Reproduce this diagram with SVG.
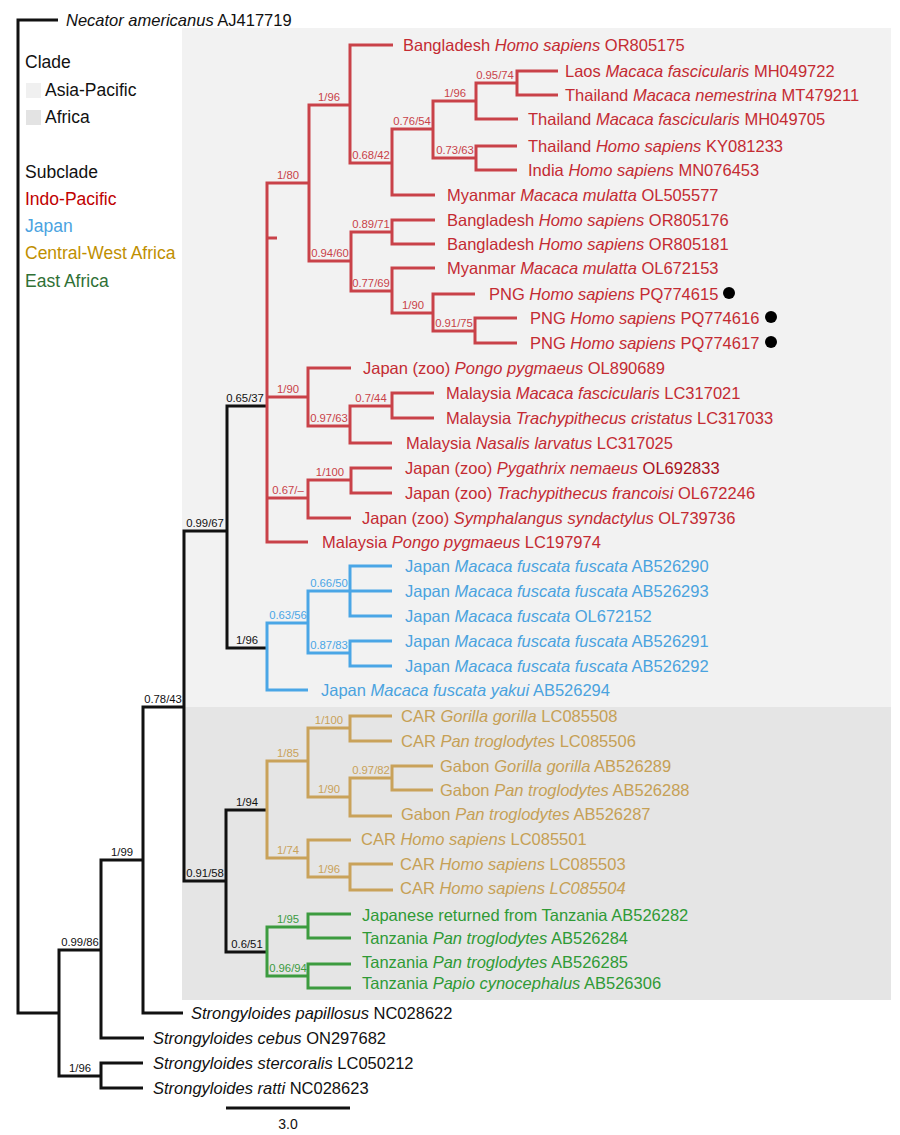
<svg xmlns="http://www.w3.org/2000/svg" width="900" height="1135" viewBox="0 0 900 1135">
<style>
text{font-family:"Liberation Sans",Arial,sans-serif}
.tip{font-size:16.5px}
.lg{font-size:17.5px}
.bs{font-size:11.3px;text-anchor:middle}
.i{font-style:italic}
.br{fill:none;stroke-width:3;stroke-linejoin:miter;stroke-linecap:butt}
.k{stroke:#111}.r{stroke:#c94249}.b{stroke:#4aa6e6}.g{stroke:#c9a25a}.e{stroke:#3c9b3f}
.tk{fill:#111}.tr{fill:#c42b32}.tb{fill:#4aa3df}.tg{fill:#c6a055}.te{fill:#2f9a35}
.lr{fill:#c94249}.lb{fill:#4aa6e6}.lgd{fill:#c9a25a}.le{fill:#3c9b3f}
</style>
<rect width="900" height="1135" fill="#ffffff"/>
<g id="clade-boxes">
<rect x="182" y="28" width="709" height="679" fill="#f2f2f2"/>
<rect x="182" y="707" width="709" height="293" fill="#e5e5e5"/>
</g>
<g id="legend">
<text class="lg tk" x="25" y="68">Clade</text>
<rect x="26" y="83" width="15" height="15" fill="#f0f0f0"/>
<text class="lg tk" x="45" y="96">Asia-Pacific</text>
<rect x="26" y="110" width="15" height="15" fill="#e3e3e3"/>
<text class="lg tk" x="45" y="123">Africa</text>
<text class="lg tk" x="25" y="178">Subclade</text>
<text class="lg" x="25" y="205" fill="#c00000">Indo-Pacific</text>
<text class="lg" x="25" y="232" fill="#4aa3df">Japan</text>
<text class="lg" x="25" y="259" fill="#bf8f00">Central-West Africa</text>
<text class="lg" x="25" y="287" fill="#2f7035">East Africa</text>
</g>
<g id="connectors">
<path class="br k" d="M58 20 H18 V1013 H59"/>
<path class="br k" d="M101 950 H59 V1076 H101"/>
<path class="br k" d="M143 1063 H101 V1088 H143"/>
<path class="br k" d="M143 860 H101 V1038 H144"/>
<path class="br k" d="M184 707 H143 V1013 H183"/>
<path class="br k" d="M227 531 H184 V881 H226"/>
<path class="br k" d="M267 406 H227 V648 H267"/>
<path class="br k" d="M267 810 H226 V952 H267"/>
<path class="br r" d="M309 183 H267 V542 H308"/>
<path class="br r" d="M267 238 H277 M267 397 H308 M267 498 H308"/>
<path class="br r" d="M350 105 H309 V261 H351"/>
<path class="br r" d="M393 45 H350 V163 H392"/>
<path class="br r" d="M433 129 H392 V195 H435"/>
<path class="br r" d="M476 101 H433 V158 H476"/>
<path class="br r" d="M517 83 H476 V119 H518"/>
<path class="br r" d="M558 71 H517 V95 H558"/>
<path class="br r" d="M517 146 H476 V170 H517"/>
<path class="br r" d="M392 232 H351 V291 H392"/>
<path class="br r" d="M435 220 H392 V244 H435"/>
<path class="br r" d="M435 268 H392 V313 H433"/>
<path class="br r" d="M475 294 H433 V331 H475"/>
<path class="br r" d="M517 318 H475 V343 H517"/>
<path class="br r" d="M351 368 H308 V426 H350"/>
<path class="br r" d="M392 406 H350 V443 H392"/>
<path class="br r" d="M434 393 H392 V418 H434"/>
<path class="br r" d="M351 480 H308 V518 H351"/>
<path class="br r" d="M392 468 H351 V493 H392"/>
<path class="br b" d="M308 623 H267 V690 H308"/>
<path class="br b" d="M350 591 H308 V653 H350"/>
<path class="br b" d="M392 566 H350 V616 H392 M350 591 H392"/>
<path class="br b" d="M392 641 H350 V666 H392"/>
<path class="br g" d="M308 761 H267 V858 H308"/>
<path class="br g" d="M350 728 H308 V797 H350"/>
<path class="br g" d="M392 716 H350 V741 H392"/>
<path class="br g" d="M392 778 H350 V816 H392"/>
<path class="br g" d="M433 766 H392 V790 H433"/>
<path class="br g" d="M351 840 H308 V877 H350"/>
<path class="br g" d="M393 864 H350 V890 H393"/>
<path class="br e" d="M308 927 H267 V976 H308"/>
<path class="br e" d="M351 914 H308 V938 H351"/>
<path class="br e" d="M351 964 H308 V988 H351"/>
</g>
<g id="support-values">
<g id="n-0.99-86"><text class="bs tk" x="80" y="946">0.99/86</text></g>
<g id="n-1-96-out"><text class="bs tk" x="80" y="1072">1/96</text></g>
<g id="n-1-99"><text class="bs tk" x="122" y="856">1/99</text></g>
<g id="n-0.78-43"><text class="bs tk" x="163" y="703">0.78/43</text></g>
<g id="n-0.99-67"><text class="bs tk" x="205" y="527">0.99/67</text></g>
<g id="n-0.91-58"><text class="bs tk" x="205" y="877">0.91/58</text></g>
<g id="n-0.65-37"><text class="bs tk" x="245" y="402">0.65/37</text></g>
<g id="n-1-96-jp"><text class="bs tk" x="247" y="644">1/96</text></g>
<g id="n-1-94"><text class="bs tk" x="247" y="806">1/94</text></g>
<g id="n-0.6-51"><text class="bs tk" x="247" y="948">0.6/51</text></g>
<g id="n-1-80"><text class="bs lr" x="288" y="179">1/80</text></g>
<g id="n-1-96-a"><text class="bs lr" x="329" y="101">1/96</text></g>
<g id="n-0.68-42"><text class="bs lr" x="371" y="159">0.68/42</text></g>
<g id="n-0.76-54"><text class="bs lr" x="412" y="125">0.76/54</text></g>
<g id="n-1-96-b"><text class="bs lr" x="455" y="97">1/96</text></g>
<g id="n-0.95-74"><text class="bs lr" x="495" y="79">0.95/74</text></g>
<g id="n-0.73-63"><text class="bs lr" x="455" y="154">0.73/63</text></g>
<g id="n-0.94-60"><text class="bs lr" x="330" y="257">0.94/60</text></g>
<g id="n-0.89-71"><text class="bs lr" x="371" y="228">0.89/71</text></g>
<g id="n-0.77-69"><text class="bs lr" x="371" y="287">0.77/69</text></g>
<g id="n-1-90-png"><text class="bs lr" x="413" y="309">1/90</text></g>
<g id="n-0.91-75"><text class="bs lr" x="454" y="327">0.91/75</text></g>
<g id="n-1-90-my"><text class="bs lr" x="288" y="393">1/90</text></g>
<g id="n-0.97-63"><text class="bs lr" x="329" y="422">0.97/63</text></g>
<g id="n-0.7-44"><text class="bs lr" x="371" y="402">0.7/44</text></g>
<g id="n-0.67"><text class="bs lr" x="288" y="494">0.67/–</text></g>
<g id="n-1-100-zoo"><text class="bs lr" x="330" y="476">1/100</text></g>
<g id="n-0.63-56"><text class="bs lb" x="288" y="619">0.63/56</text></g>
<g id="n-0.66-50"><text class="bs lb" x="329" y="587">0.66/50</text></g>
<g id="n-0.87-83"><text class="bs lb" x="329" y="649">0.87/83</text></g>
<g id="n-1-85"><text class="bs lgd" x="288" y="757">1/85</text></g>
<g id="n-1-100-car"><text class="bs lgd" x="329" y="724">1/100</text></g>
<g id="n-1-90-gab"><text class="bs lgd" x="329" y="793">1/90</text></g>
<g id="n-0.97-82"><text class="bs lgd" x="371" y="774">0.97/82</text></g>
<g id="n-1-74"><text class="bs lgd" x="288" y="854">1/74</text></g>
<g id="n-1-96-car"><text class="bs lgd" x="329" y="873">1/96</text></g>
<g id="n-1-95"><text class="bs le" x="288" y="923">1/95</text></g>
<g id="n-0.96-94"><text class="bs le" x="288" y="972">0.96/94</text></g>
</g>
<g id="tips">
<g id="t-AJ417719"><text class="tip tk" x="66" y="26"><tspan class="i">Necator americanus</tspan> AJ417719</text></g>
<g id="t-OR805175"><text class="tip tr" x="403" y="51">Bangladesh <tspan class="i">Homo sapiens</tspan> OR805175</text></g>
<g id="t-MH049722"><text class="tip tr" x="565" y="77">Laos <tspan class="i">Macaca fascicularis</tspan> MH049722</text></g>
<g id="t-MT479211"><text class="tip tr" x="565" y="101">Thailand <tspan class="i">Macaca nemestrina</tspan> MT479211</text></g>
<g id="t-MH049705"><text class="tip tr" x="528" y="125">Thailand <tspan class="i">Macaca fascicularis</tspan> MH049705</text></g>
<g id="t-KY081233"><text class="tip tr" x="528" y="152">Thailand <tspan class="i">Homo sapiens</tspan> KY081233</text></g>
<g id="t-MN076453"><text class="tip tr" x="528" y="176">India <tspan class="i">Homo sapiens</tspan> MN076453</text></g>
<g id="t-OL505577"><text class="tip tr" x="447" y="201">Myanmar <tspan class="i">Macaca mulatta</tspan> OL505577</text></g>
<g id="t-OR805176"><text class="tip tr" x="447" y="226">Bangladesh <tspan class="i">Homo sapiens</tspan> OR805176</text></g>
<g id="t-OR805181"><text class="tip tr" x="447" y="250">Bangladesh <tspan class="i">Homo sapiens</tspan> OR805181</text></g>
<g id="t-OL672153"><text class="tip tr" x="447" y="274">Myanmar <tspan class="i">Macaca mulatta</tspan> OL672153</text></g>
<g id="t-PQ774615"><text class="tip tr" x="489" y="300">PNG <tspan class="i">Homo sapiens</tspan> PQ774615</text><circle cx="729" cy="293" r="6" fill="#000"/></g>
<g id="t-PQ774616"><text class="tip tr" x="530" y="324">PNG <tspan class="i">Homo sapiens</tspan> PQ774616</text><circle cx="771" cy="317" r="6" fill="#000"/></g>
<g id="t-PQ774617"><text class="tip tr" x="530" y="349">PNG <tspan class="i">Homo sapiens</tspan> PQ774617</text><circle cx="771" cy="342" r="6" fill="#000"/></g>
<g id="t-OL890689"><text class="tip tr" x="363" y="374">Japan (zoo) <tspan class="i">Pongo pygmaeus</tspan> OL890689</text></g>
<g id="t-LC317021"><text class="tip tr" x="446" y="399">Malaysia <tspan class="i">Macaca fascicularis</tspan> LC317021</text></g>
<g id="t-LC317033"><text class="tip tr" x="446" y="424">Malaysia <tspan class="i">Trachypithecus cristatus</tspan> LC317033</text></g>
<g id="t-LC317025"><text class="tip tr" x="406" y="449">Malaysia <tspan class="i">Nasalis larvatus</tspan> LC317025</text></g>
<g id="t-OL692833"><text class="tip tr" x="405" y="474">Japan (zoo) <tspan class="i">Pygathrix nemaeus</tspan> <tspan fill="#a8121c">OL692833</tspan></text></g>
<g id="t-OL672246"><text class="tip tr" x="405" y="499">Japan (zoo) <tspan class="i">Trachypithecus francoisi</tspan> OL672246</text></g>
<g id="t-OL739736"><text class="tip tr" x="362" y="524">Japan (zoo) <tspan class="i">Symphalangus syndactylus</tspan> OL739736</text></g>
<g id="t-LC197974"><text class="tip tr" x="322" y="548">Malaysia <tspan class="i">Pongo pygmaeus</tspan> LC197974</text></g>
<g id="t-AB526290"><text class="tip tb" x="405" y="572">Japan <tspan class="i">Macaca fuscata fuscata</tspan> AB526290</text></g>
<g id="t-AB526293"><text class="tip tb" x="405" y="597">Japan <tspan class="i">Macaca fuscata fuscata</tspan> AB526293</text></g>
<g id="t-OL672152"><text class="tip tb" x="405" y="622">Japan <tspan class="i">Macaca fuscata</tspan> OL672152</text></g>
<g id="t-AB526291"><text class="tip tb" x="405" y="647">Japan <tspan class="i">Macaca fuscata fuscata</tspan> AB526291</text></g>
<g id="t-AB526292"><text class="tip tb" x="405" y="672">Japan <tspan class="i">Macaca fuscata fuscata</tspan> AB526292</text></g>
<g id="t-AB526294"><text class="tip tb" x="321" y="696">Japan <tspan class="i">Macaca fuscata yakui</tspan> AB526294</text></g>
<g id="t-LC085508"><text class="tip tg" x="401" y="722">CAR <tspan class="i">Gorilla gorilla</tspan> LC085508</text></g>
<g id="t-LC085506"><text class="tip tg" x="401" y="747">CAR <tspan class="i">Pan troglodytes</tspan> LC085506</text></g>
<g id="t-AB526289"><text class="tip tg" x="440" y="772">Gabon <tspan class="i">Gorilla gorilla</tspan> AB526289</text></g>
<g id="t-AB526288"><text class="tip tg" x="440" y="796">Gabon <tspan class="i">Pan troglodytes</tspan> AB526288</text></g>
<g id="t-AB526287"><text class="tip tg" x="401" y="820">Gabon <tspan class="i">Pan troglodytes</tspan> AB526287</text></g>
<g id="t-LC085501"><text class="tip tg" x="361" y="845">CAR <tspan class="i">Homo sapiens</tspan> LC085501</text></g>
<g id="t-LC085503"><text class="tip tg" x="400" y="870">CAR <tspan class="i">Homo sapiens</tspan> LC085503</text></g>
<g id="t-LC085504"><text class="tip tg" x="400" y="894">CAR <tspan class="i">Homo sapiens LC085504</tspan></text></g>
<g id="t-AB526282"><text class="tip te" x="362" y="921">Japanese returned from Tanzania AB526282</text></g>
<g id="t-AB526284"><text class="tip te" x="362" y="944">Tanzania <tspan class="i">Pan troglodytes</tspan> AB526284</text></g>
<g id="t-AB526285"><text class="tip te" x="362" y="968">Tanzania <tspan class="i">Pan troglodytes</tspan> AB526285</text></g>
<g id="t-AB526306"><text class="tip te" x="362" y="989">Tanzania <tspan class="i">Papio cynocephalus</tspan> AB526306</text></g>
<g id="t-NC028622"><text class="tip tk" x="191" y="1019"><tspan class="i">Strongyloides papillosus</tspan> NC028622</text></g>
<g id="t-ON297682"><text class="tip tk" x="153" y="1044"><tspan class="i">Strongyloides cebus</tspan> ON297682</text></g>
<g id="t-LC050212"><text class="tip tk" x="153" y="1069"><tspan class="i">Strongyloides stercoralis</tspan> LC050212</text></g>
<g id="t-NC028623"><text class="tip tk" x="153" y="1094"><tspan class="i">Strongyloides ratti</tspan> NC028623</text></g>
</g>
<g id="scale-bar">
<line x1="226" y1="1108" x2="350" y2="1108" stroke="#111" stroke-width="3"/>
<text x="288" y="1129" font-size="14" text-anchor="middle" fill="#111">3.0</text>
</g>
</svg>
